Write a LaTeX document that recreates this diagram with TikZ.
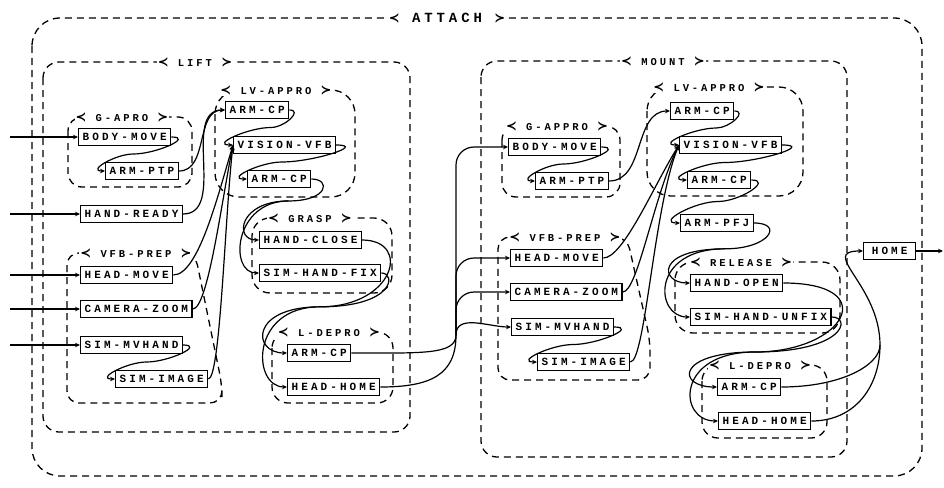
\documentclass[tikz,border=0pt]{standalone}
\usepackage{fontspec}
\newfontfamily\taskfont[LetterSpace=28]{Liberation Mono}
\newfontfamily\symfont{DejaVu Sans}
\usetikzlibrary{arrows.meta,calc}
\newcommand{\grpl}{{\symfont\fontsize{13}{13}\selectfont ≺}}
\newcommand{\grpr}{{\symfont\fontsize{13}{13}\selectfont ≻}}
\tikzset{
task/.style={
draw,
anchor=west,
line width=1.3pt,
fill=white,
minimum height=17pt,
inner xsep=4pt,
inner ysep=2pt,
font=\taskfont\bfseries\fontsize{11}{12}\selectfont
},
group/.style={
draw,
line width=1.3pt,
dash pattern=on 7pt off 5pt,
rounded corners=#1
},
group/.default=14pt,
grouplabel/.style={
fill=white,
inner sep=1pt,
font=\taskfont\bfseries\fontsize{10.5}{11}\selectfont
},
arrow/.style={
-{Stealth[length=5pt,width=4.5pt]},
line width=1.2pt
},
line/.style={
line width=1.2pt
}
}

\begin{document}
\begin{tikzpicture}[x=1pt,y=-1pt]
\useasboundingbox (0,0) rectangle (944,487);

% groups
\draw[group=28pt] (32,18) rectangle (922,476);
\draw[group=16pt] (43,62) rectangle (410,432);
\draw[group=16pt] (481,61) rectangle (847,457);
\draw[group] (68,117) rectangle (192,187);
\draw[group=24pt] (215,90) rectangle (355,197);
\draw[group=12pt] (67,253) -- (195,253) -- (222,385) -- (222,403) -- (67,403) -- cycle;
\draw[group=18pt] (252,218) rectangle (392,293);
\draw[group=16pt] (272,332) rectangle (393,403);
\draw[group] (502,126) rectangle (620,197);
\draw[group=24pt] (647,87) rectangle (803,196);
\draw[group=12pt] (498,237) -- (627,237) -- (650,340) -- (650,380) -- (498,380) -- cycle;
\draw[group=18pt] (675,262) rectangle (840,333);
\draw[group=16pt] (702,365) rectangle (827,438);

\node[grouplabel,font=\taskfont\bfseries\fontsize{14}{16}\selectfont](tAttach) at (447,18){\grpl\ ATTACH \grpr};
\node[grouplabel](tLift) at (195,62){\grpl\ LIFT \grpr};
\node[grouplabel](tMount) at (663,61){\grpl\ MOUNT \grpr};
\node[grouplabel](tGaL) at (122,117){\grpl\ G-APRO \grpr};
\node[grouplabel](tLvL) at (276,90){\grpl\ LV-APPRO \grpr};
\node[grouplabel](tVpL) at (136,253){\grpl\ VFB-PREP \grpr};
\node[grouplabel](tGrasp) at (310,218){\grpl\ GRASP \grpr};
\node[grouplabel](tLdL) at (329,332){\grpl\ L-DEPRO \grpr};
\node[grouplabel](tGaR) at (557,126){\grpl\ G-APPRO \grpr};
\node[grouplabel](tLvR) at (709,87){\grpl\ LV-APPRO \grpr};
\node[grouplabel](tVpR) at (565,237){\grpl\ VFB-PREP \grpr};
\node[grouplabel](tRel) at (741,262){\grpl\ RELEASE \grpr};
\node[grouplabel](tLdR) at (760,365){\grpl\ L-DEPRO \grpr};

% tasks, lift
\node[task](bmL) at (78,137){BODY-MOVE};
\node[task](ptpL) at (105,171){ARM-PTP};
\node[task](hrL) at (80,214){HAND-READY};
\node[task](hmL) at (80,275){HEAD-MOVE};
\node[task](czL) at (80,309){CAMERA-ZOOM};
\node[task](mvL) at (80,345){SIM-MVHAND};
\node[task](imgL) at (115,379){SIM-IMAGE};
\node[task](cpaL) at (225,110){ARM-CP};
\node[task](visL) at (233,145){VISION-VFB};
\node[task](cpbL) at (247,179){ARM-CP};
\node[task](hcL) at (259,240){HAND-CLOSE};
\node[task](shfL) at (259,273){SIM-HAND-FIX};
\node[task](cpcL) at (287,353){ARM-CP};
\node[task](hhL) at (287,387){HEAD-HOME};

% tasks, mount
\node[task](bmR) at (508,147){BODY-MOVE};
\node[task](ptpR) at (535,181){ARM-PTP};
\node[task](cpaR) at (670,111){ARM-CP};
\node[task](visR) at (679,145){VISION-VFB};
\node[task](cpbR) at (687,180){ARM-CP};
\node[task](pfR) at (680,223){ARM-PFJ};
\node[task](hmR) at (510,258){HEAD-MOVE};
\node[task](czR) at (510,292){CAMERA-ZOOM};
\node[task](mvR) at (511,327){SIM-MVHAND};
\node[task](imgR) at (537,362){SIM-IMAGE};
\node[task](hoR) at (690,283){HAND-OPEN};
\node[task](suR) at (690,317){SIM-HAND-UNFIX};
\node[task](cpcR) at (717,387){ARM-CP};
\node[task](hhR) at (718,421){HEAD-HOME};
\node[task,minimum width=52pt](home) at (863,251){HOME};

% inputs and output
\coordinate (edge) at (10,0);
\coordinate (rim) at (943,0);
\foreach \n in {bmL,hrL,hmL,czL,mvL}
\draw[arrow](\n.west -| edge)--(\n.west);
\draw[arrow](home.east)--(home.east -| rim);

% loops
\foreach \a/\b in {bmL/ptpL,cpaL/visL,visL/cpbL,mvL/imgL,bmR/ptpR,cpaR/visR,visR/cpbR,cpbR/pfR,mvR/imgR}
\draw[arrow](\a.east) to[out=0,in=0,looseness=1.4] ($(\a.south)!.5!(\b.north)$) to[out=180,in=180,looseness=1.4] (\b.west);

% lift
\draw[arrow](ptpL.east) to[out=0,in=180] (cpaL.west);
\draw[arrow](hrL.east) to[out=0,in=180] (cpaL.west);
\draw[arrow](hmL.east) .. controls +(25,0) and +(-15,50) .. (visL.west);
\draw[arrow](czL.east) .. controls +(15,0) and +(-12,60) .. (visL.west);
\draw[arrow](imgL.east) .. controls +(12,0) and +(-8,70) .. (visL.west);

\coordinate (jgL) at ($(cpbL.south)!.3!(hcL.north)$);
\draw[line](cpbL.east) .. controls +(20,0) and +(40,0) .. (jgL);
\draw[arrow](jgL) .. controls +(-50,0) and +(-25,0) .. (hcL.west);
\draw[arrow](jgL) .. controls +(-55,0) and +(-30,0) .. (shfL.west);

\coordinate (jdL) at ($(shfL.south)!.4!(cpcL.north)$);
\draw[line](hcL.east) .. controls +(50,0) and +(75,0) .. (jdL);
\draw[line](shfL.east) .. controls +(15,0) and +(75,0) .. (jdL);
\draw[arrow](jdL) .. controls +(-70,0) and +(-35,0) .. (cpcL.west);
\draw[arrow](jdL) .. controls +(-70,0) and +(-35,0) .. (hhL.west);

% lift to mount
\coordinate (trk) at (456,335);
\draw[line](cpcL.east) .. controls +(70,0) and +(0,20) .. (trk);
\draw[line](hhL.east) .. controls +(50,0) and +(0,40) .. (trk);
\foreach \n in {bmR,hmR,czR}
\draw[arrow,rounded corners=18pt](trk) |- (\n.west);
\draw[arrow](trk) to[out=90,in=180] (mvR.west);

% mount
\draw[arrow](ptpR.east) to[out=0,in=180] (cpaR.west);
\draw[arrow](hmR.east) .. controls +(20,0) and +(-25,40) .. (visR.west);
\draw[arrow](czR.east) .. controls +(15,0) and +(-25,50) .. (visR.west);
\draw[arrow](imgR.east) .. controls +(15,0) and +(-25,60) .. (visR.west);

\coordinate (jrR) at ($(pfR.south)!.4!(hoR.north)$);
\draw[line](pfR.east) .. controls +(30,0) and +(45,0) .. (jrR);
\draw[arrow](jrR) .. controls +(-70,0) and +(-30,0) .. (hoR.west);
\draw[arrow](jrR) .. controls +(-75,0) and +(-35,0) .. (suR.west);

\coordinate (jdR) at ($(suR.south)!.5!(cpcR.north)$);
\draw[line](hoR.east) .. controls +(100,0) and +(90,0) .. (jdR);
\draw[line](suR.east) .. controls +(20,0) and +(90,0) .. (jdR);
\draw[arrow](jdR) .. controls +(-80,0) and +(-40,0) .. (cpcR.west);
\draw[arrow](jdR) .. controls +(-80,0) and +(-40,0) .. (hhR.west);

% mount to home
\coordinate (jh) at (880,345);
\draw[line](cpcR.east) .. controls +(60,0) and +(0,20) .. (jh);
\draw[line](hhR.east) .. controls +(45,0) and +(0,40) .. (jh);
\draw[arrow](jh) .. controls +(0,-60) and +(-45,0) .. (home.west);
\end{tikzpicture}
\end{document}
